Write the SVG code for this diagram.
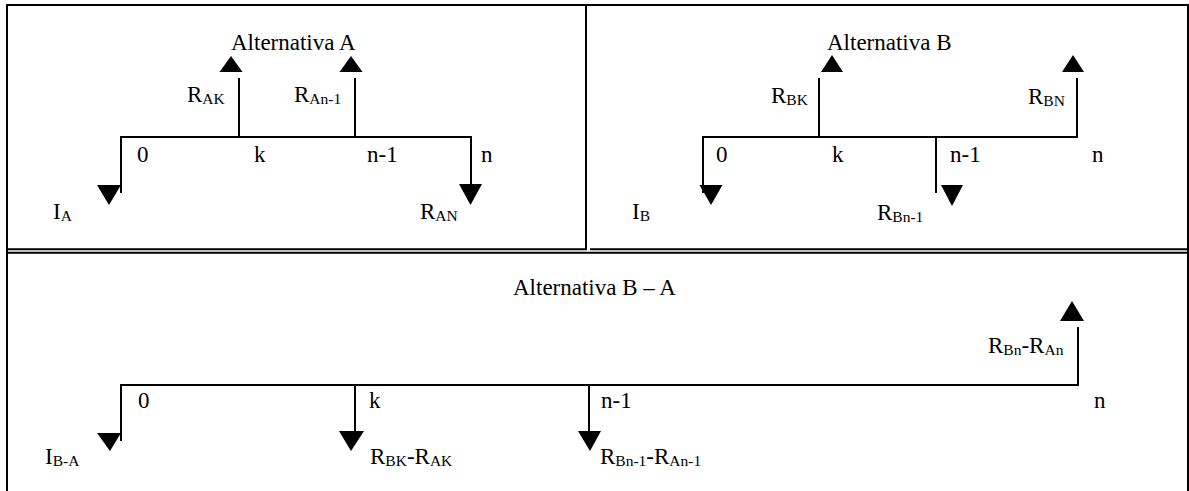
<svg xmlns="http://www.w3.org/2000/svg" width="1189" height="491" viewBox="0 0 1189 491">
<style>
.frame{fill:none;stroke:#000;stroke-width:2}
.ln{fill:none;stroke:#000;stroke-width:2}
.head{fill:#000;stroke:none}
.t{font-family:'Liberation Serif','DejaVu Serif',serif;font-size:23px;fill:#000}
.sub{font-size:15.5px}
</style>
<rect width="1189" height="491" fill="#fff"/>
<g id="frame">
<line class="frame" x1="7" y1="5" x2="1188" y2="5"/>
<line class="frame" x1="7" y1="4" x2="7" y2="491"/>
<line class="frame" x1="1188" y1="4" x2="1188" y2="491"/>
<line class="frame" x1="586" y1="5" x2="586" y2="250"/>
<line class="frame" x1="7" y1="249.2" x2="587" y2="249.2"/>
<line class="frame" x1="590" y1="249.2" x2="1188" y2="249.2"/>
<line class="frame" x1="7" y1="252.8" x2="1188" y2="252.8"/>
</g>
<g id="connectors">
<path class="ln" d="M121,193 V137 H471 V185"/>
<line class="ln" x1="239" y1="78" x2="239" y2="137"/>
<line class="ln" x1="355" y1="78" x2="355" y2="137"/>
<polygon class="head" points="219.5,72 242.5,72 231,56"/>
<polygon class="head" points="339.5,72 362.5,72 351,56"/>
<polygon class="head" points="97,185 121,185 109,205"/>
<polygon class="head" points="459,184 482,184 470.5,205"/>
<path class="ln" d="M703,193 V137 H1077 V78"/>
<line class="ln" x1="819" y1="78" x2="819" y2="137"/>
<line class="ln" x1="936" y1="137" x2="936" y2="193"/>
<polygon class="head" points="821,72 843,72 832,55"/>
<polygon class="head" points="1062,72 1084,72 1073,55"/>
<polygon class="head" points="699.5,185 722.5,185 711,205"/>
<polygon class="head" points="941,185 963,185 952,206"/>
<path class="ln" d="M121,441 V385 H1078 V327"/>
<line class="ln" x1="355" y1="385" x2="355" y2="440"/>
<line class="ln" x1="589" y1="385" x2="589" y2="440"/>
<polygon class="head" points="97,433 121,433 110,451"/>
<polygon class="head" points="339,431 364,431 351,451"/>
<polygon class="head" points="578,431 601,431 590,451"/>
<polygon class="head" points="1060,321 1084,321 1072,301"/>
</g>
<g id="panel-a" class="t">
<text class="t" x="231" y="50">Alternativa A</text>
<text class="t" x="187" y="102">R<tspan class="sub" dy="2">AK</tspan></text>
<text class="t" x="294" y="102">R<tspan class="sub" dy="2">An-1</tspan></text>
<text class="t" x="137" y="162">0</text>
<text class="t" x="254" y="162">k</text>
<text class="t" x="367" y="162">n-1</text>
<text class="t" x="481" y="162">n</text>
<text class="t" x="53" y="219">I<tspan class="sub" dy="2">A</tspan></text>
<text class="t" x="420" y="219">R<tspan class="sub" dy="2">AN</tspan></text>
</g>
<g id="panel-b" class="t">
<text class="t" x="827" y="50">Alternativa B</text>
<text class="t" x="771" y="103">R<tspan class="sub" dy="2">BK</tspan></text>
<text class="t" x="1028" y="104">R<tspan class="sub" dy="2">BN</tspan></text>
<text class="t" x="716" y="162">0</text>
<text class="t" x="832" y="162">k</text>
<text class="t" x="950" y="162">n-1</text>
<text class="t" x="1092" y="162">n</text>
<text class="t" x="632" y="219">I<tspan class="sub" dy="2">B</tspan></text>
<text class="t" x="877" y="220">R<tspan class="sub" dy="2">Bn-1</tspan></text>
</g>
<g id="panel-ba" class="t">
<text class="t" x="513" y="295">Alternativa B – A</text>
<text class="t" x="988" y="353">R<tspan class="sub" dy="2">Bn</tspan><tspan dy="-2">-R</tspan><tspan class="sub" dy="2">An</tspan></text>
<text class="t" x="138" y="408">0</text>
<text class="t" x="369" y="408">k</text>
<text class="t" x="601" y="408">n-1</text>
<text class="t" x="1094" y="408">n</text>
<text class="t" x="45" y="464">I<tspan class="sub" dy="2">B-A</tspan></text>
<text class="t" x="370" y="464">R<tspan class="sub" dy="2">BK</tspan><tspan dy="-2">-R</tspan><tspan class="sub" dy="2">AK</tspan></text>
<text class="t" x="600" y="464">R<tspan class="sub" dy="2">Bn-1</tspan><tspan dy="-2">-R</tspan><tspan class="sub" dy="2">An-1</tspan></text>
</g>
</svg>
